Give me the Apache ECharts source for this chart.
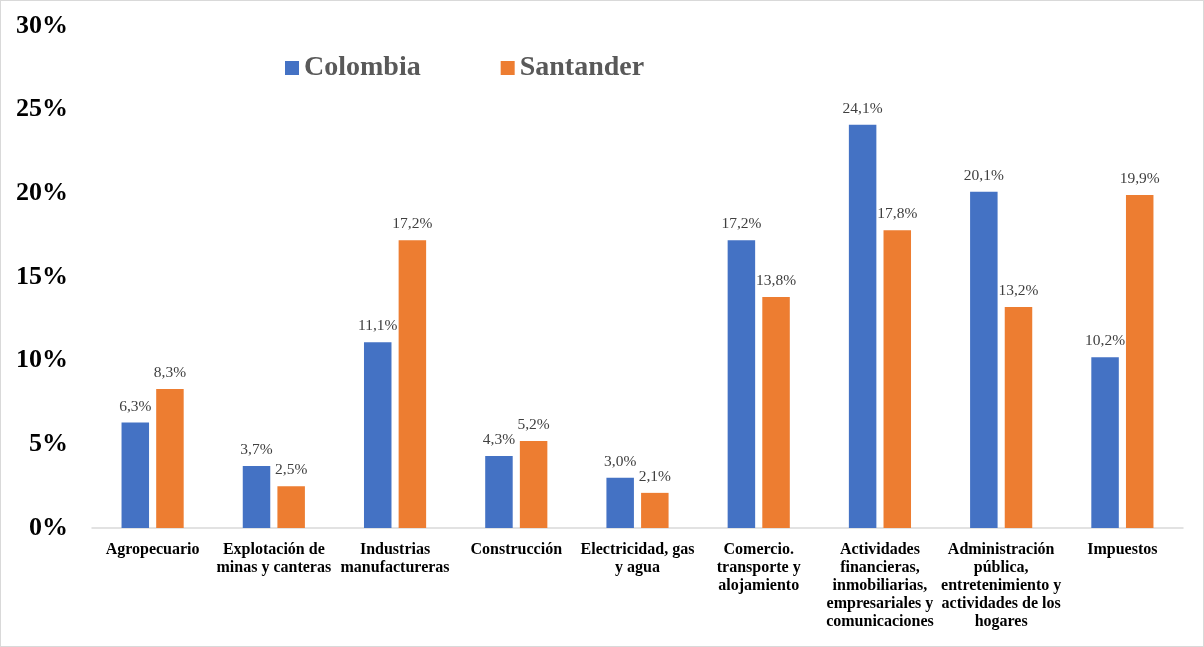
<!DOCTYPE html>
<html><head><meta charset="utf-8">
<script src="https://cdn.jsdelivr.net/npm/echarts@6/dist/echarts.min.js"></script>
<style>html,body{margin:0;padding:0;background:#fff}#c{width:1204px;height:647px;box-sizing:border-box;border:1.5px solid #d9d9d9}</style>
</head><body><div id="c"></div>
<script>
const categories = ["Agropecuario","Explotación de\nminas y canteras","Industrias\nmanufactureras","Construcción","Electricidad, gas\ny agua","Comercio.\ntransporte y\nalojamiento","Actividades\nfinancieras,\ninmobiliarias,\nempresariales y\ncomunicaciones","Administración\npública,\nentretenimiento y\nactividades de los\nhogares","Impuestos"];
const colombia = [6.3,3.7,11.1,4.3,3.0,17.2,24.1,20.1,10.2];
const santander = [8.3,2.5,17.2,5.2,2.1,13.8,17.8,13.2,19.9];
const yTicks = [0,5,10,15,20,25,30];
const serif = "'Liberation Serif','Times New Roman',serif";
const chart = echarts.init(document.getElementById('c'));
const lbl = {show:true,position:'top',distance:8,fontFamily:serif,fontSize:15.5,color:'#404040',
  formatter:p=>p.value.toFixed(1).replace('.',',')+'%'};
chart.setOption({
  animation:false,
  legend:{left:279,top:48,itemWidth:14,itemHeight:14,itemGap:80,icon:'rect',
    textStyle:{fontFamily:serif,fontSize:28,fontWeight:'bold',color:'#595959',padding:[-2,0,0,0]}},
  grid:{left:91,right:20,top:25,bottom:118},
  xAxis:{type:'category',data:categories,
    axisLine:{lineStyle:{color:'#d9d9d9',width:1.5}},axisTick:{show:false},
    axisLabel:{interval:0,margin:13,fontFamily:serif,fontSize:16,fontWeight:'bold',color:'#000',lineHeight:18}},
  yAxis:{type:'value',min:0,max:30,interval:5,splitLine:{show:false},
    axisLine:{show:false},axisTick:{show:false},
    axisLabel:{margin:24,fontFamily:serif,fontSize:26,fontWeight:'bold',color:'#000',
      formatter:v=>yTicks.includes(v)?v+'%':''}},
  series:[
    {name:'Colombia',type:'bar',data:colombia,barWidth:27.5,barGap:'26%',itemStyle:{color:'#4472C4'},label:lbl},
    {name:'Santander',type:'bar',data:santander,barWidth:27.5,itemStyle:{color:'#ED7D31'},label:lbl}
  ]
});
</script></body></html>
